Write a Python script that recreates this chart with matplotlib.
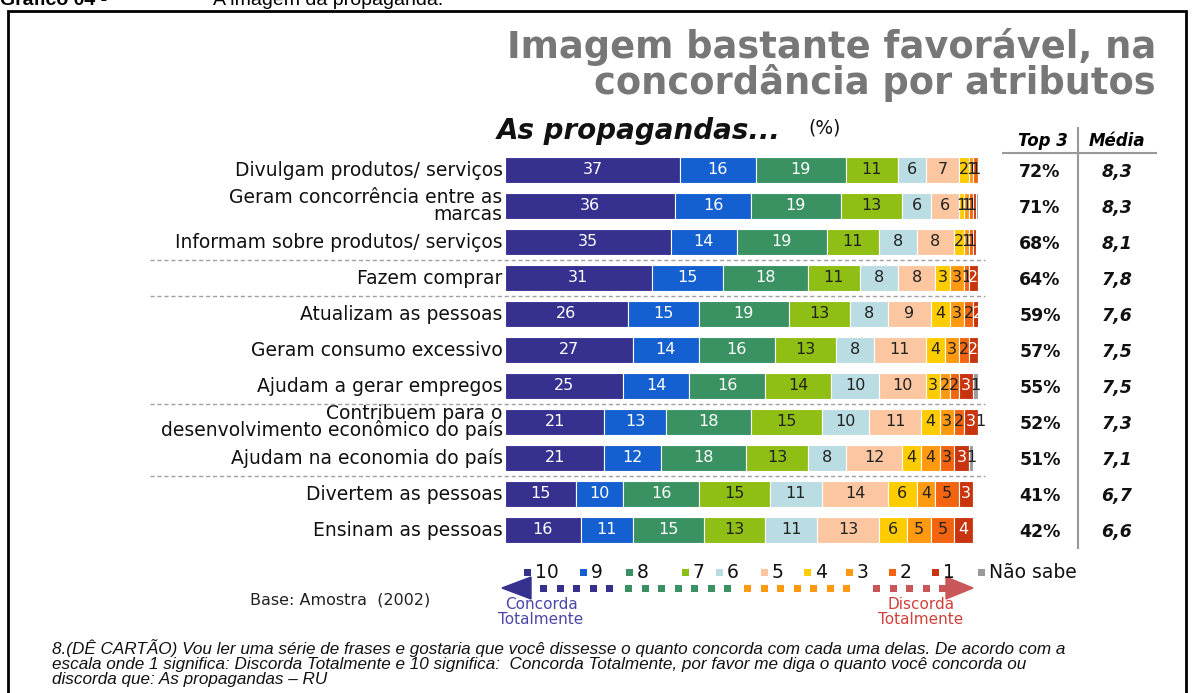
import numpy as np
import matplotlib.pyplot as plt
from matplotlib.lines import Line2D
from matplotlib.patches import Rectangle, Polygon

W, H = 1203, 693

atributos = [
    "Divulgam produtos/ serviços",
    "Geram concorrência entre as\nmarcas",
    "Informam sobre produtos/ serviços",
    "Fazem comprar",
    "Atualizam as pessoas",
    "Geram consumo excessivo",
    "Ajudam a gerar empregos",
    "Contribuem para o\ndesenvolvimento econômico do país",
    "Ajudam na economia do país",
    "Divertem as pessoas",
    "Ensinam as pessoas",
]

# notas 10, 9, 8, ..., 1 e "Não sabe" (%)
notas = ["10", "9", "8", "7", "6", "5", "4", "3", "2", "1", "Não sabe"]
valores = np.array([
    [37, 16, 19, 11, 6, 7, 2, 1, 1, 0.5, 0],
    [36, 16, 19, 13, 6, 6, 1, 1, 1, 0.5, 0.5],
    [35, 14, 19, 11, 8, 8, 2, 1, 1, 0.5, 0],
    [31, 15, 18, 11, 8, 8, 3, 3, 1, 2, 0],
    [26, 15, 19, 13, 8, 9, 4, 3, 2, 2, 0],
    [27, 14, 16, 13, 8, 11, 4, 3, 2, 2, 0],
    [25, 14, 16, 14, 10, 10, 3, 2, 2, 3, 1],
    [21, 13, 18, 15, 10, 11, 4, 3, 2, 3, 1],
    [21, 12, 18, 13, 8, 12, 4, 4, 3, 3, 1],
    [15, 10, 16, 15, 11, 14, 6, 4, 5, 3, 0],
    [16, 11, 15, 13, 11, 13, 6, 5, 5, 4, 0],
])
top3 = ["72%", "71%", "68%", "64%", "59%", "57%", "55%", "52%", "51%", "41%", "42%"]
media = ["8,3", "8,3", "8,1", "7,8", "7,6", "7,5", "7,5", "7,3", "7,1", "6,7", "6,6"]

cores = ["#36318f", "#1560d0", "#3a9262", "#8fbf14", "#b9dde3", "#fcc7a0",
         "#ffcc00", "#ff9a10", "#f2640f", "#c8340e", "#9a9a9a"]
cor_texto = ["#ffffff", "#ffffff", "#ffffff", "#222222", "#222222", "#222222",
             "#222222", "#222222", "#222222", "#ffffff", "#222222"]

fig = plt.figure(figsize=(W / 100, H / 100), dpi=100)


def pos(x, y):
    # pixel (a partir do topo) -> fração da figura
    return x / W, 1 - y / H


# moldura
fig.add_artist(Rectangle(pos(8, 700), (1186 - 8) / W, (700 - 11) / H,
                         transform=fig.transFigure, fill=False, lw=2, ec="black"))
fig.text(*pos(0, 5), "Gráfico 04 -", fontsize=14, fontweight="bold",
         family="Liberation Sans", va="baseline")
fig.text(*pos(213, 5), "A imagem da propaganda.", fontsize=14,
         family="Liberation Sans", va="baseline")

# título
fig.text(*pos(1156, 47), "Imagem bastante favorável, na", fontsize=26.5,
         fontweight="bold", color="#777777", ha="right", va="center")
fig.text(*pos(1156, 83), "concordância por atributos", fontsize=26.5,
         fontweight="bold", color="#777777", ha="right", va="center")
fig.text(*pos(497, 131), "As propagandas...", fontsize=20, fontweight="bold",
         style="italic", color="#111111", va="center")
fig.text(*pos(808, 128), "(%)", fontsize=13.5, color="#111111", va="center")

# barras
ax = fig.add_axes([505 / W, 1 - 548 / H, 473 / W, 396 / H])
n = len(atributos)
y = np.arange(n)
esquerda = np.zeros(n)
for j, nota in enumerate(notas):
    ax.barh(y, valores[:, j], left=esquerda, height=0.7, color=cores[j],
            edgecolor="white", linewidth=0.8)
    for i in range(n):
        v = valores[i, j]
        if v >= 1:
            ax.text(esquerda[i] + v / 2, y[i], f"{v:g}", ha="center", va="center",
                    fontsize=11.5, color=cor_texto[j])
    esquerda += valores[:, j]

for i, rot in enumerate(atributos):
    ax.text(-0.5, y[i], rot, ha="right", va="center", fontsize=13.5,
            color="#111111", linespacing=0.85)

ax.set_xlim(0, 100)
ax.set_ylim(n - 0.5, -0.5)
ax.axis("off")

# separadores tracejados
for yy in [260, 296, 404, 476]:
    fig.add_artist(Line2D([150 / W, 985 / W], [1 - yy / H] * 2, color="#a0a0a0",
                          lw=1, ls=(0, (3, 2))))

# colunas Top 3 e Média
fig.text(*pos(1043, 141), "Top 3", fontsize=12, fontweight="bold",
         style="italic", ha="center", va="center")
fig.text(*pos(1117, 141), "Média", fontsize=12, fontweight="bold",
         style="italic", ha="center", va="center")
fig.add_artist(Line2D([1003 / W, 1156 / W], [1 - 153 / H] * 2, color="#999999", lw=1.5))
fig.add_artist(Line2D([1078 / W] * 2, [1 - 128 / H, 1 - 548 / H], color="#999999", lw=1.5))
for i in range(n):
    yy = 172 + 36 * i
    fig.text(*pos(1040, yy), top3[i], fontsize=12.5, fontweight="bold",
             ha="center", va="center", color="#111111")
    fig.text(*pos(1117, yy), media[i], fontsize=12.5, fontweight="bold",
             style="italic", ha="center", va="center", color="#111111")

# legenda
leg_x = [528, 584, 630, 686, 720, 765, 808, 850, 893, 936, 982]
for j, nota in enumerate(notas):
    fig.add_artist(Rectangle(pos(leg_x[j] - 4, 576), 7 / W, 7 / H,
                             transform=fig.transFigure, color=cores[j], lw=0))
    fig.text(*pos(leg_x[j] + 7, 572), nota, fontsize=13.5, va="center",
             color="#111111")

# escala de concordância
fig.add_artist(Polygon([pos(502, 588), pos(531, 577), pos(531, 599)],
                       closed=True, transform=fig.transFigure, color="#36318f"))
fig.add_artist(Polygon([pos(973, 588), pos(946, 577), pos(946, 599)],
                       closed=True, transform=fig.transFigure, color="#c9575a"))
faixas = [(540, 5, "#36318f"), (625, 7, "#3a9262"), (744, 7, "#ff9a10"), (873, 5, "#c9575a")]
for x0, k, cor in faixas:
    for m in range(k):
        fig.add_artist(Rectangle(pos(x0 + m * 16.5, 592), 7 / W, 7 / H,
                                 transform=fig.transFigure, color=cor, lw=0))
fig.text(*pos(541, 612), "Concorda\nTotalmente", fontsize=11, color="#4b47a8",
         ha="center", va="center", linespacing=1.0)
fig.text(*pos(921, 612), "Discorda\nTotalmente", fontsize=11, color="#d0403a",
         ha="center", va="center", linespacing=1.0)
fig.text(*pos(250, 600), "Base: Amostra  (2002)", fontsize=11.5, color="#222222",
         va="center")

nota_rodape = ("8.(DÊ CARTÃO) Vou ler uma série de frases e gostaria que você dissesse o quanto "
               "concorda com cada uma delas. De acordo com a\nescala onde 1 significa: Discorda "
               "Totalmente e 10 significa:  Concorda Totalmente, por favor me diga o quanto "
               "você concorda ou\ndiscorda que: As propagandas – RU")
fig.text(*pos(52, 639), nota_rodape, fontsize=12.3, style="italic",
         family="Liberation Sans", va="top", linespacing=1.0,
         color="#111111")

fig.savefig("out.png", dpi=100)
